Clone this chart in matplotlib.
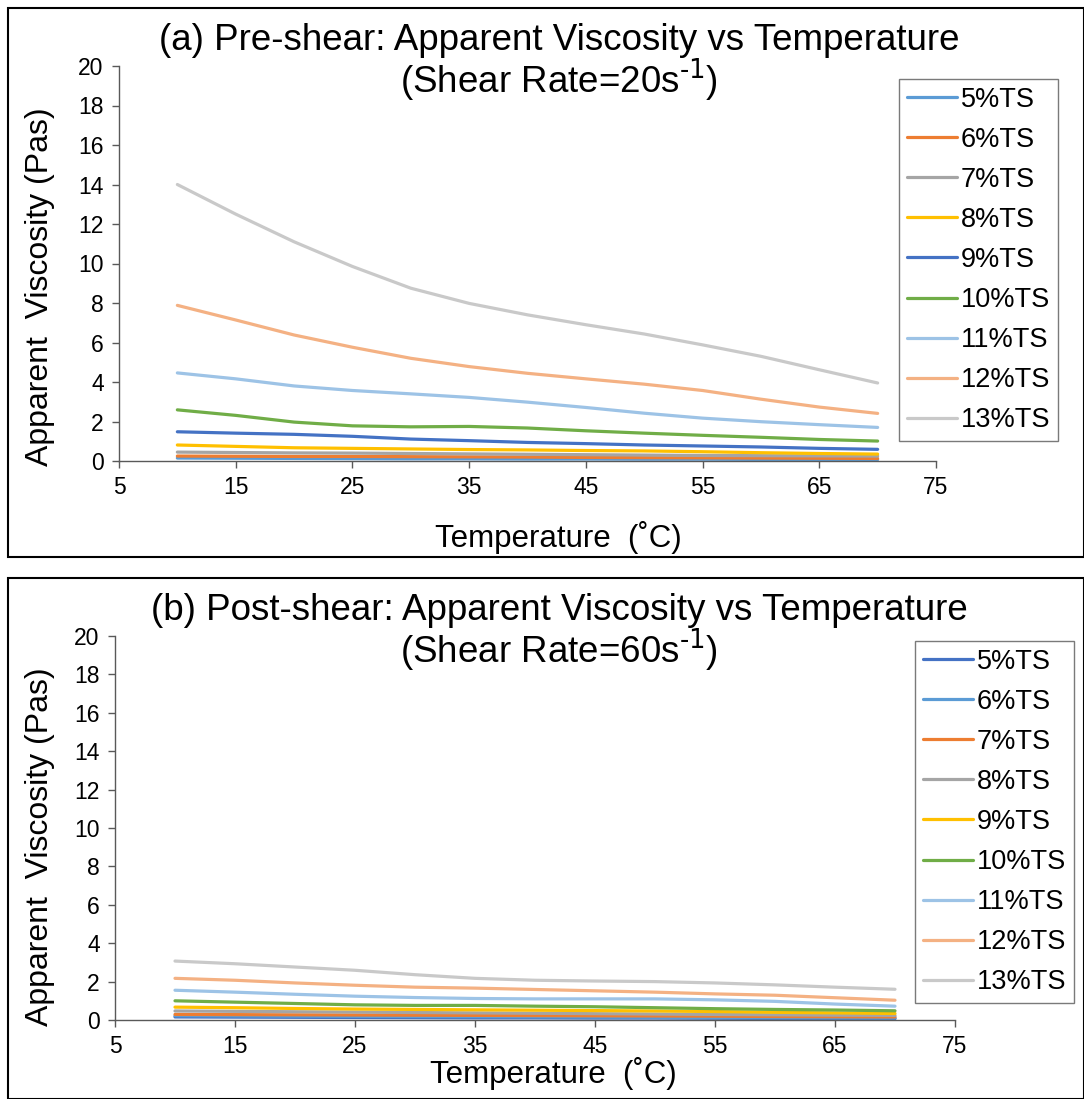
import matplotlib
matplotlib.use("Agg")
import matplotlib.pyplot as plt
from matplotlib.patches import Rectangle

plt.rcParams['font.family'] = ['Liberation Sans', 'DejaVu Sans']
plt.rcParams['mathtext.default'] = 'regular'

W, H = 1084, 1099

temps = [10, 15, 20, 25, 30, 35, 40, 45, 50, 55, 60, 65, 70]
labels = ["5%TS", "6%TS", "7%TS", "8%TS", "9%TS", "10%TS", "11%TS", "12%TS", "13%TS"]

# (a) pre-shear, shear rate 20 1/s
pre_5 = [0.15, 0.14, 0.13, 0.12, 0.11, 0.11, 0.10, 0.10, 0.09, 0.09, 0.08, 0.08, 0.07]
pre_6 = [0.25, 0.24, 0.23, 0.23, 0.22, 0.21, 0.20, 0.18, 0.17, 0.16, 0.15, 0.14, 0.13]
pre_7 = [0.45, 0.43, 0.41, 0.40, 0.38, 0.36, 0.34, 0.32, 0.30, 0.28, 0.27, 0.26, 0.25]
pre_8 = [0.81, 0.74, 0.67, 0.64, 0.61, 0.58, 0.56, 0.53, 0.51, 0.47, 0.42, 0.38, 0.35]
pre_9 = [1.48, 1.41, 1.35, 1.25, 1.11, 1.03, 0.94, 0.88, 0.81, 0.76, 0.71, 0.64, 0.59]
pre_10 = [2.59, 2.31, 1.97, 1.78, 1.73, 1.75, 1.67, 1.53, 1.41, 1.30, 1.20, 1.09, 1.01]
pre_11 = [4.46, 4.16, 3.80, 3.57, 3.40, 3.22, 2.98, 2.71, 2.42, 2.17, 1.99, 1.84, 1.70]
pre_12 = [7.88, 7.14, 6.38, 5.76, 5.20, 4.78, 4.44, 4.16, 3.89, 3.57, 3.13, 2.73, 2.41]
pre_13 = [14.0, 12.5, 11.1, 9.85, 8.75, 7.98, 7.40, 6.90, 6.43, 5.88, 5.30, 4.62, 3.95]

# (b) post-shear, shear rate 60 1/s
post_5 = [0.16, 0.15, 0.14, 0.13, 0.12, 0.11, 0.11, 0.10, 0.10, 0.09, 0.08, 0.08, 0.07]
post_6 = [0.22, 0.21, 0.20, 0.19, 0.18, 0.17, 0.16, 0.15, 0.14, 0.13, 0.12, 0.11, 0.10]
post_7 = [0.29, 0.28, 0.27, 0.26, 0.25, 0.24, 0.23, 0.22, 0.21, 0.20, 0.18, 0.17, 0.16]
post_8 = [0.47, 0.45, 0.43, 0.41, 0.39, 0.37, 0.35, 0.33, 0.31, 0.29, 0.27, 0.25, 0.24]
post_9 = [0.67, 0.64, 0.60, 0.57, 0.55, 0.53, 0.51, 0.49, 0.47, 0.44, 0.40, 0.37, 0.34]
post_10 = [1.00, 0.93, 0.86, 0.79, 0.76, 0.76, 0.72, 0.69, 0.64, 0.59, 0.55, 0.52, 0.48]
post_11 = [1.55, 1.45, 1.34, 1.24, 1.17, 1.12, 1.10, 1.10, 1.10, 1.05, 0.97, 0.83, 0.72]
post_12 = [2.17, 2.07, 1.93, 1.81, 1.71, 1.66, 1.59, 1.52, 1.45, 1.36, 1.29, 1.16, 1.03]
post_13 = [3.07, 2.93, 2.76, 2.59, 2.36, 2.17, 2.07, 2.03, 2.00, 1.93, 1.83, 1.71, 1.60]

pre_series = [pre_5, pre_6, pre_7, pre_8, pre_9, pre_10, pre_11, pre_12, pre_13]
post_series = [post_5, post_6, post_7, post_8, post_9, post_10, post_11, post_12, post_13]

pre_colors = ["#5B9BD5", "#ED7D31", "#A5A5A5", "#FFC000", "#4472C4",
              "#70AD47", "#9DC3E6", "#F4B183", "#C9C9C9"]
post_colors = ["#4472C4", "#5B9BD5", "#ED7D31", "#A5A5A5", "#FFC000",
               "#70AD47", "#9DC3E6", "#F4B183", "#C9C9C9"]

fig = plt.figure(figsize=(W / 100, H / 100), dpi=100)


def px_box(x0, y0, x1, y1):
    # pixel box (top-left origin) -> figure fraction [l, b, w, h]
    return [x0 / W, 1 - y1 / H, (x1 - x0) / W, (y1 - y0) / H]


def panel(box, frame, series, colors, title1, title2, t_xy, leg_xy, xlab_xy, ylab_y):
    fig.patches.append(Rectangle((frame[0] / W, 1 - frame[3] / H),
                                 (frame[2] - frame[0]) / W, (frame[3] - frame[1]) / H,
                                 transform=fig.transFigure, fill=False,
                                 edgecolor="black", linewidth=1.5))
    ax = fig.add_axes(px_box(*box))
    for vals, col, lab in zip(series, colors, labels):
        ax.plot(temps, vals, color=col, linewidth=2.3, label=lab,
                solid_capstyle="round", solid_joinstyle="round")
    ax.set_xlim(5, 75)
    ax.set_ylim(0, 20)
    ax.set_xticks(range(5, 76, 10))
    ax.set_yticks(range(0, 21, 2))
    for s in ["top", "right"]:
        ax.spines[s].set_visible(False)
    for s in ["left", "bottom"]:
        ax.spines[s].set_color("#595959")
        ax.spines[s].set_linewidth(1.0)
    ax.tick_params(direction="out", length=5, width=1.0, color="#595959",
                   labelsize=16.5, pad=6)
    fig.text(40 / W, 1 - ylab_y / H, "Apparent  Viscosity (Pas)", fontsize=23,
             rotation=90, ha="center", va="center")
    fig.text(t_xy[0] / W, 1 - t_xy[1] / H, title1, fontsize=26.5,
             ha="center", va="center")
    fig.text(t_xy[0] / W, 1 - (t_xy[1] + 40) / H, title2, fontsize=26.5,
             ha="center", va="center")
    fig.text(xlab_xy[0] / W, 1 - xlab_xy[1] / H, "Temperature  (\u02daC)",
             fontsize=22.5, ha="center", va="center")
    leg = ax.legend(loc="upper left", bbox_to_anchor=(leg_xy[0] / W, 1 - leg_xy[1] / H),
                    bbox_transform=fig.transFigure, borderaxespad=0, fontsize=19.5,
                    frameon=True, fancybox=False, handlelength=1.85,
                    handletextpad=0.15, labelspacing=0.52, borderpad=0.28)
    leg.get_frame().set_edgecolor("#595959")
    leg.get_frame().set_linewidth(1.0)
    return ax


panel((119, 66, 936, 461), (8, 8, 1084, 557), pre_series, pre_colors,
      "(a) Pre-shear: Apparent Viscosity vs Temperature",
      r"(Shear Rate=20s$^{\text{-1}}$)", (559, 40), (899, 79), (558, 537), 287)
panel((115, 636, 955, 1020), (8, 578, 1084, 1099), post_series, post_colors,
      "(b) Post-shear: Apparent Viscosity vs Temperature",
      r"(Shear Rate=60s$^{\text{-1}}$)", (559, 610), (915, 641), (553, 1073), 847)

fig.savefig("out.png", dpi=100)
